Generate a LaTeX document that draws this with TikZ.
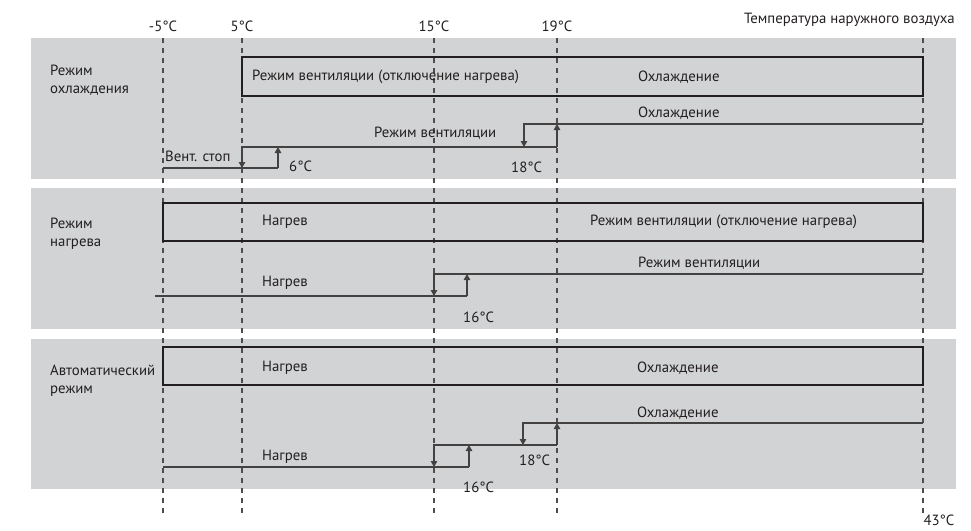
\documentclass[tikz,border=0pt]{standalone}
\usepackage{fontspec}
\setmainfont{PT Sans}
\usetikzlibrary{arrows.meta}
\definecolor{bandgray}{RGB}{209,211,212}
\definecolor{ink}{RGB}{35,31,32}

\begin{document}
\begin{tikzpicture}[x=1pt,y=-1pt,
    band/.style={fill=bandgray,draw=none},
    modebox/.style={draw=ink,line width=1.8pt},
    lvl/.style={draw=ink!85,line width=1.1pt},
    tip/.style={-{Triangle[length=6pt,width=6.5pt]}},
    guide/.style={draw=ink!80,line width=1.2pt,dash pattern=on 5pt off 5pt},
    lbl/.style={anchor=west,inner sep=0pt,text=ink,font=\fontsize{14.8}{18}\selectfont},
    modelbl/.style={lbl,align=left}]
  \useasboundingbox (0,0) rectangle (971,530);
  % grey bands
  \fill[band] (31,38) rectangle (956,179);
  \fill[band] (31,188) rectangle (956,329);
  \fill[band] (31,339) rectangle (956,489);
  % temperature guides
  \foreach \x/\t [count=\i] in {163/-5,242/5,434/15,557/19,923/43}
  {
    \draw[guide] (\x,38) -- (\x,514);
  }
  \foreach \x/\t [count=\i] in {163/-5,242/5,434/15,557/19}
  {
    \node[lbl,anchor=center] (top\i) at (\x,26) {\t°C};
  }
  \node[lbl,anchor=center] (t43) at (939,520.5) {43°C};
  \node[lbl,anchor=east] (axis) at (955,20) {Температура наружного воздуха};

  % cooling mode
  \node[modelbl] (mcool) at (50,80) {Режим\\охлаждения};
  \draw[modebox] (242,57) rectangle (923,96);
  \node[lbl] (cfan) at (252,77) {Режим вентиляции (отключение нагрева)};
  \node[lbl] (ccool) at (638,77) {Охлаждение};
  \node[lbl] (ccool2) at (638,113) {Охлаждение};
  \node[lbl] (cfan2) at (374,133) {Режим вентиляции};
  \node[lbl] (cstop) at (165,156) {Вент. стоп};
  \node[lbl] (c6) at (289,166) {6°C};
  \node[lbl] (c18) at (511,167) {18°C};
  \draw[lvl] (163,168) -- (278,168);
  \draw[lvl,tip] (278,168) -- (278,147);
  \draw[lvl,tip] (557,147) -| (242,168);
  \draw[lvl,tip] (557,147) -- (557,124);
  \draw[lvl,tip] (923,124) -| (524,147);

  % heating mode
  \node[modelbl] (mheat) at (50,233.5) {Режим\\нагрева};
  \draw[modebox] (163,203) rectangle (923,241);
  \node[lbl] (hheat) at (262,222) {Нагрев};
  \node[lbl] (hfan) at (590,222) {Режим вентиляции (отключение нагрева)};
  \node[lbl] (hfan2) at (638,263) {Режим вентиляции};
  \node[lbl] (hheat2) at (262,283) {Нагрев};
  \node[lbl] (h16) at (463,317) {16°C};
  \draw[lvl] (155,296) -- (467,296);
  \draw[lvl,tip] (467,296) -- (467,274);
  \draw[lvl,tip] (923,274) -| (434,296);

  % automatic mode
  \node[modelbl] (mauto) at (50,380.5) {Автоматический\\режим};
  \draw[modebox] (163,347) rectangle (923,385);
  \node[lbl] (aheat) at (262,368) {Нагрев};
  \node[lbl] (acool) at (637,368) {Охлаждение};
  \node[lbl] (acool2) at (637,413) {Охлаждение};
  \node[lbl] (aheat2) at (262,457) {Нагрев};
  \node[lbl] (a16) at (463,487) {16°C};
  \node[lbl] (a18) at (519,460) {18°C};
  \draw[lvl] (163,467) -- (469,467);
  \draw[lvl,tip] (469,467) -- (469,445);
  \draw[lvl,tip] (557,445) -| (434,467);
  \draw[lvl,tip] (557,445) -- (557,423);
  \draw[lvl,tip] (923,423) -| (523,445);
\end{tikzpicture}
\end{document}
